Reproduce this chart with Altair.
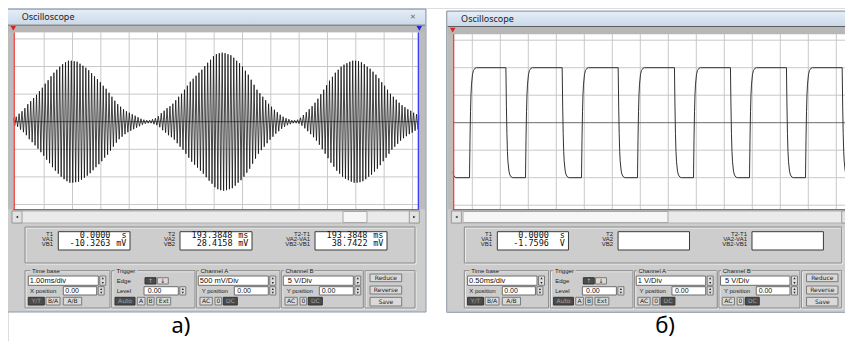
import altair as alt
import pandas as pd

# ------------------------------------------------------------------ data
# Panel (a): beat signal, Channel A 500 mV/div, time base 1 ms/div.
# One peak amplitude per carrier cycle (mV), read stroke by stroke from the trace.
A_CARRIER_PERIOD_MS = 0.1024
A_AMPLITUDE_MV = [
    72, 91, 145, 190, 245, 317, 371, 429, 489, 553, 616, 689, 752, 824, 888, 942, 997, 1042, 1078, 1105,
    1105, 1096, 1087, 1051, 1015, 978, 933, 879, 824, 770, 716, 652, 598, 525, 453, 380, 317, 272, 226, 190,
    163, 136, 109, 82, 54, 36, 27, 27, 45, 63, 100, 154, 199, 245, 281, 326, 390, 453, 507, 580,
    652, 725, 779, 833, 888, 942, 1006, 1069, 1123, 1187, 1223, 1241, 1250, 1241, 1223, 1205, 1160, 1105, 1060, 997,
    924, 852, 761, 670, 580, 516, 453, 390, 326, 272, 217, 172, 127, 91, 63, 45, 27, 27, 36, 72,
    121, 172, 226, 281, 344, 417, 498, 580, 661, 743, 815, 888, 942, 997, 1033, 1060, 1087, 1105, 1105, 1096,
    1078, 1042, 997, 960, 906, 852, 788, 716, 652, 580, 507, 453, 399, 344, 299, 263, 226, 199, 163, 136, 118]
A_X_DOMAIN_MS = [0.0, 14.331]
A_Y_DOMAIN_V = [-1.587, 1.62]
A_XGRID_MS = [1.09, 2.09, 3.09, 4.09, 5.09, 6.09, 7.09, 8.09, 9.09, 10.09, 11.09, 12.09, 13.09, 14.09]
A_YGRID_V = [-1.5, -1.0, -0.5, 0.5, 1.0, 1.5]

# Panel (b): square wave, Channel A 1 V/div, time base 0.5 ms/div.
B_START_T_MS = [0.0, 0.009, 0.018, 0.036, 0.06]
B_START_V = [-1.76, -1.86, -1.92, -1.97, -2.0]
B_RISE_MS = [0.30, 1.30, 2.30, 3.30, 4.30, 5.30, 6.30]
B_FALL_MS = [0.95, 1.955, 2.955, 3.96, 4.96, 5.96, 6.955]
B_EDGE_DT_MS = [0.0, 0.009, 0.018, 0.027, 0.036, 0.054, 0.071, 0.098, 0.125]
B_EDGE_FRACTION = [0.0, 0.35, 0.6, 0.76, 0.85, 0.94, 0.975, 0.995, 1.0]
B_HIGH_V = 2.0
B_LOW_V = -2.0
B_END_MS = 7.2
B_X_DOMAIN_MS = [0.0, 7.125]
B_Y_DOMAIN_V = [-3.149, 3.287]
B_XGRID_MS = [0.35, 0.85, 1.35, 1.85, 2.35, 2.85, 3.35, 3.85, 4.35, 4.85, 5.35, 5.85, 6.35, 6.85]
B_YGRID_V = [-3, -2, -1, 1, 2, 3]

# Readouts and control texts
A_READOUT = [["0.0000", "s", "-10.3263", "mV"], ["193.3848", "ms", "28.4158", "mV"], ["193.3848", "ms", "38.7422", "mV"]]
B_READOUT = [["0.0000", "s", "-1.7596", "V"], ["", "", "", ""], ["", "", "", ""]]
A_SETTINGS = ["1.00ms/div", "500 mV/Div", "5 V/Div"]
B_SETTINGS = ["0.50ms/div", "1 V/Div", "5 V/Div"]

# ------------------------------------------------------------------ traces
a_t, a_v = [], []
for i, amp in enumerate(A_AMPLITUDE_MV):
    a_t += [i * A_CARRIER_PERIOD_MS, i * A_CARRIER_PERIOD_MS + A_CARRIER_PERIOD_MS / 2]
    a_v += [amp / 1000.0, -amp / 1000.0]
trace_a = pd.DataFrame({"t": a_t, "v": a_v})

b_t, b_v = list(B_START_T_MS), list(B_START_V)
edges = sorted([(r, 1) for r in B_RISE_MS] + [(f, -1) for f in B_FALL_MS])
swing = B_HIGH_V - B_LOW_V
for t0, kind in edges:
    for dt, fr in zip(B_EDGE_DT_MS, B_EDGE_FRACTION):
        b_t.append(t0 + dt)
        b_v.append(B_LOW_V + fr * swing if kind == 1 else B_HIGH_V - fr * swing)
b_t.append(B_END_MS)
b_v.append(B_LOW_V)
trace_b = pd.DataFrame({"t": b_t, "v": b_v})

# ------------------------------------------------------------------ layout / style
TOTAL_W, TOTAL_H = 837, 333
PANEL = "#cdcdcd"
SIDE = "#bcbcbc"
BORDER = "#8e9aab"
SANS = "Liberation Sans"
MONO = "DejaVu Sans Mono"


def raw(field, ch):
    return ch(field, scale=None, axis=None) if ch in (alt.X, alt.Y) else ch(field, scale=None)


def placed_x(dom, px0, px1):
    u = (dom[1] - dom[0]) / (px1 - px0)
    d0 = dom[0] - px0 * u
    return alt.Scale(domain=[d0, d0 + TOTAL_W * u], nice=False, zero=False)


def placed_y(dom, py0, py1):
    u = (dom[1] - dom[0]) / (py1 - py0)
    d0 = dom[0] - (TOTAL_H - py1) * u
    return alt.Scale(domain=[d0, d0 + TOTAL_H * u], nice=False, zero=False)


def window_layers(cfg, trace, xdom, ydom, xgrid, ygrid, trace_color, trace_w, readout, settings):
    W, H = cfg["w"], cfg["h"]
    ox, oy = cfg["ox"], cfg["oy"]
    fl, fr, ft, tb, sb, fb = cfg["fl"], cfg["fr"], cfg["ft"], cfg["tb"], cfg["sb"], cfg["fb"]
    k = cfg["k"]
    pr = cfg["panel_right"]

    def X(v):
        return v * k

    back, rects, points = [], [], []
    t_left, t_right, t_center, t_mono = [], [], [], []

    def R(x, x2, y, y2, fill, stroke="transparent", target=None):
        (rects if target is None else target).append(
            dict(x=x + ox, x2=x2 + ox, y=y + oy, y2=y2 + oy, fill=fill, stroke=stroke))

    def P(x, y, shape, size, color):
        points.append(dict(x=x + ox, y=y + oy, shape=shape, size=size, color=color))

    def T(lst, x, y, text, size, color):
        lst.append(dict(x=x + ox, y=y + oy, text=text, size=size, color=color))

    # window body and white screen (drawn under the trace)
    R(fl, fr, ft, fb, PANEL, BORDER, target=back)
    R(0, W, 0, H, "white", target=back)
    # frame parts around the screen
    R(fl + 1, 0, tb, H, SIDE)
    R(W, fr - 1, tb, H, SIDE)
    R(fl + 1, fr - 1, tb, sb, "#b7b7b7")
    R(fl + 1, fr - 1, tb, tb + 1, "#5f5f5f")
    R(0, W, H, H + 1, "#555555")
    # icon + close button
    R(-1.3, 5.7, ft + 4, ft + 11, "#f4f4f4", "#6d7b8d")
    R(0.2, 3.0, ft + 6, ft + 8.5, "#5b7fae")
    cx = cfg["close_x"]
    R(cx, min(cx + 20, fr - 1), ft + 2, ft + 13, "#e8edf4", "#8d96a3")
    if cfg["close_glyph"]:
        T(t_center, cx + 10, ft + 7.6, "✕", 7, "#6a6a6a")
    # scrollbar
    R(-1.3, W, H + 1.7, H + 13.7, "#eaeaea", "#b0b0b0")
    R(cfg["thumb"][0], cfg["thumb"][1], H + 2.2, H + 13.2, "#f6f6f6", "#a8a8a8")
    R(-1.3, 8.7, H + 1.7, H + 13.7, "#e2e2e2", "#9c9c9c")
    R(W - 10, W, H + 1.7, H + 13.7, "#e2e2e2", "#9c9c9c")
    P(3.7, H + 7.7, "triangle-left", 7, "#222222")
    P(W - 5, H + 7.7, "triangle-right", 7, "#222222")
    # readout frame + boxes
    R(X(11.7) + 1, pr + 1, 195.7, 231.7, "transparent", "#f2f2f2")
    R(X(11.7), pr, 194.7, 230.7, "transparent", "#8a8a8a")
    boxes = [(45, 116.7), (166.7, 238.7), (301.7, 373.7)]
    labels = [(39.7, ["T1", "VA1", "VB1"]), (161.7, ["T2", "VA2", "VB2"]),
              (296.7, ["T2-T1", "VA2-VA1", "VB2-VB1"])]
    for (b0, b1), (lx, labs), vals in zip(boxes, labels, readout):
        R(X(b0), X(b1), 199.4, 217.7, "white", "#3a3a3a")
        for lab, yy in zip(labs, [201.7, 206.9, 211.9]):
            T(t_right, X(lx), yy, lab, 6, "#1e1e1e")
        T(t_mono, X(b1) - 19.5, 202.2, vals[0], 8.5, "#111111")
        T(t_mono, X(b1) - 3.5, 202.2, vals[1], 8.5, "#111111")
        T(t_mono, X(b1) - 19.5, 210.8, vals[2], 8.5, "#111111")
        T(t_mono, X(b1) - 3.5, 210.8, vals[3], 8.5, "#111111")
    # control groups
    groups = [(11.7, 96.7), (98.4, 181.7), (183.4, 266.7), (268.4, 350)]
    for g0, g1 in groups:
        R(X(g0) + 1, X(g1) + 1, 239.4, 276.7, "transparent", "#f2f2f2")
        R(X(g0), X(g1), 238.4, 275.7, "transparent", "#8a8a8a")
    R(X(351.7) + 1, pr + 1, 239.4, 276.7, "transparent", "#f2f2f2")
    R(X(351.7), pr, 238.4, 275.7, "transparent", "#8a8a8a")
    for (b0, b1), name in zip([(17, 47), (101.5, 124), (185.5, 216), (270.5, 301)],
                              ["Time base", "Trigger", "Channel A", "Channel B"]):
        R(X(b0), X(b1), 235.5, 241.5, PANEL)
        T(t_left, X(b0) + 1.7, 238.4, name, 6, "#1e1e1e")
    # inputs with spinners
    inputs = [(15, 85, 243.7, 253, settings[0], 16.5, 7.5), (50, 83.4, 254.4, 262.7, "0.00", 52, 7),
              (130.7, 165, 254.4, 262.7, "0.00", 134.5, 7), (185, 255, 243.7, 253, settings[1], 186.5, 7.5),
              (221, 255, 254.4, 262.7, "0.00", 224, 7), (270, 340, 243.7, 253, settings[2], 274.5, 7.5),
              (306, 340, 254.4, 262.7, "0.00", 308.4, 7)]
    for x0, x1, y0, y1, txt, tx, ts in inputs:
        R(X(x0), X(x1), y0, y1, "white", "#6d6d6d")
        T(t_left, X(tx), (y0 + y1) / 2 + 0.3, txt, ts, "#111111")
        s0, s1 = X(x1) + 1.5, X(x1) + 7.5
        R(s0, s1, y0, y1, "#dedede", "#7a7a7a")
        P((s0 + s1) / 2, y0 + 2.3, "triangle-up", 5, "#222222")
        P((s0 + s1) / 2, y1 - 2.3, "triangle-down", 5, "#222222")
    for name, x0, yy in [("X position", 16.7, 258.6), ("Edge", 103.4, 248.4), ("Level", 103.4, 258.6),
                         ("Y position", 188.4, 258.6), ("Y position", 273.4, 258.6)]:
        T(t_left, X(x0), yy, name, 6, "#1e1e1e")
    # buttons
    buttons = [("Y/T", 15, 31, 265, 272.7, True), ("B/A", 32.7, 46.7, 265, 272.7, False),
               ("A/B", 50, 68.4, 265, 272.7, False), ("", 131.7, 142.7, 245.4, 251.7, True),
               ("", 144, 155, 245.4, 251.7, False), ("Auto", 101.7, 121.7, 265, 272.7, True),
               ("A", 124, 131.7, 265, 272.7, False), ("B", 134, 140.7, 265, 272.7, False),
               ("Ext", 143.4, 157.4, 265, 272.7, False), ("AC", 186.7, 199, 265, 272.7, False),
               ("0", 201.7, 208.4, 265, 272.7, False), ("DC", 210, 224, 265, 272.7, True),
               ("AC", 271.7, 284, 265, 272.7, False), ("0", 286.7, 293.4, 265, 272.7, False),
               ("DC", 295, 309, 265, 272.7, True), ("Reduce", 356.7, 388.4, 241.7, 249.4, False),
               ("Reverse", 356.7, 388.4, 253.7, 261.7, False), ("Save", 356.7, 388.4, 265, 273.7, False)]
    for lab, x0, x1, y0, y1, dark in buttons:
        R(X(x0), X(x1), y0, y1, "#4b4b4b" if dark else "#dadada", "#333333" if dark else "#7a7a7a")
        if lab:
            T(t_center, (X(x0) + X(x1)) / 2, (y0 + y1) / 2 + 0.2, lab, 6, "#a0a0a0" if dark else "#1a1a1a")
    # edge glyphs on the trigger buttons
    T(t_center, X(137.2), 248.6, "↑", 6, "#b0b0b0")
    T(t_center, X(149.5), 248.6, "↓", 6, "#1a1a1a")
    # cursor markers
    P(0, (tb + sb) / 2, "triangle-down", 30, "#e02020")
    if cfg["blue_line"]:
        P(W, (tb + sb) / 2, "triangle-down", 30, "#2020e0")

    xs = placed_x(xdom, ox, ox + W)
    ys = placed_y(ydom, oy, oy + H)

    def rect_layer(rows):
        return alt.Chart(pd.DataFrame(rows)).mark_rect(strokeWidth=1).encode(
            x=raw("x:Q", alt.X), x2="x2:Q", y=raw("y:Q", alt.Y), y2="y2:Q",
            fill=raw("fill:N", alt.Fill), stroke=raw("stroke:N", alt.Stroke))

    one = pd.DataFrame({"c": [0]})
    layers = [rect_layer(back)]
    layers.append(alt.Chart(pd.DataFrame({"t": xgrid})).mark_rule(color="#c9c9c9", strokeWidth=1).encode(
        x=alt.X("t:Q", scale=xs, axis=None), y=alt.value(oy), y2=alt.value(oy + H)))
    layers.append(alt.Chart(pd.DataFrame({"v": ygrid})).mark_rule(color="#c9c9c9", strokeWidth=1).encode(
        y=alt.Y("v:Q", scale=ys, axis=None), x=alt.value(ox), x2=alt.value(ox + W)))
    layers.append(alt.Chart(pd.DataFrame({"v": [0.0]})).mark_rule(color="#6a6a6a", strokeWidth=1).encode(
        y=alt.Y("v:Q", scale=ys, axis=None), x=alt.value(ox), x2=alt.value(ox + W)))
    layers.append(alt.Chart(trace).transform_filter(
        (alt.datum.t >= xdom[0]) & (alt.datum.t <= xdom[1] + 0.01)).mark_line(
        color=trace_color, strokeWidth=trace_w).encode(
        x=alt.X("t:Q", scale=xs, axis=None), y=alt.Y("v:Q", scale=ys, axis=None)))
    layers.append(alt.Chart(one).mark_rule(color="#f04040", strokeWidth=1.6).encode(
        x=alt.value(ox + 0.8), y=alt.value(oy), y2=alt.value(oy + H)))
    if cfg["blue_line"]:
        layers.append(alt.Chart(one).mark_rule(color="#3c3cf0", strokeWidth=1.6).encode(
            x=alt.value(ox + W - 0.8), y=alt.value(oy), y2=alt.value(oy + H)))
    layers.append(rect_layer(rects))
    layers.append(alt.Chart(one).mark_rect(
        fill=alt.Gradient(gradient="linear", stops=[alt.GradientStop(color="#e4edf7", offset=0),
                                                    alt.GradientStop(color="#cbd9ea", offset=1)],
                          x1=0, x2=0, y1=0, y2=1)).encode(
        x=alt.value(ox + fl + 1), x2=alt.value(ox + fr - 1), y=alt.value(oy + ft + 1), y2=alt.value(oy + tb)))
    layers.append(alt.Chart(one).mark_text(
        text="Oscilloscope", font="Noto Sans", fontSize=9, align="left", baseline="middle", color="#222222").encode(
        x=alt.value(ox + 8.4), y=alt.value(oy + (ft + tb) / 2)))

    def text_layer(rows, align, font):
        return alt.Chart(pd.DataFrame(rows)).mark_text(align=align, baseline="middle", font=font).encode(
            x=raw("x:Q", alt.X), y=raw("y:Q", alt.Y), text="text:N",
            size=raw("size:Q", alt.Size), color=raw("color:N", alt.Color))

    layers.append(text_layer(t_left, "left", SANS))
    layers.append(text_layer(t_right, "right", SANS))
    layers.append(text_layer(t_center, "center", "DejaVu Sans"))
    layers.append(text_layer(t_mono, "right", MONO))
    layers.append(alt.Chart(pd.DataFrame(points)).mark_point(filled=True, opacity=1).encode(
        x=raw("x:Q", alt.X), y=raw("y:Q", alt.Y), shape=raw("shape:N", alt.Shape),
        size=raw("size:Q", alt.Size), color=raw("color:N", alt.Color)))
    layers.append(alt.Chart(one).mark_text(
        text=cfg["caption"], font="Noto Sans", fontSize=22, align="center", baseline="alphabetic",
        color="#000000").encode(x=alt.value(ox + cfg["caption_x"]), y=alt.value(oy + 300.7)))
    return layers


# screen origins in chart pixels (page origin is 8 px left/up of the reference image)
left_cfg = dict(ox=5.3, oy=24.3, w=406, h=177, fl=-6.3, fr=412.7, ft=-23.3, tb=-7.8, sb=0, fb=279.7, k=1.0,
                panel_right=401.7, thumb=(329.7, 353.7), close_x=389.7, close_glyph=True, blue_line=True,
                caption="а)", caption_x=167.7)
right_cfg = dict(ox=444.7, oy=24.3, w=399, h=177, fl=-6, fr=400, ft=-21.3, tb=-6.3, sb=2, fb=280, k=0.992,
                 panel_right=389, thumb=(10.3, 215.3), close_x=387.3, close_glyph=False, blue_line=False,
                 caption="б)", caption_x=212.3)

layers = window_layers(left_cfg, trace_a, A_X_DOMAIN_MS, A_Y_DOMAIN_V, A_XGRID_MS, A_YGRID_V,
                       "#0a0a0a", 0.75, A_READOUT, A_SETTINGS)
layers += window_layers(right_cfg, trace_b, B_X_DOMAIN_MS, B_Y_DOMAIN_V, B_XGRID_MS, B_YGRID_V,
                        "#333333", 1.0, B_READOUT, B_SETTINGS)

chart = alt.layer(*layers).resolve_scale(
    x="independent", y="independent", color="independent", size="independent",
    shape="independent", fill="independent", stroke="independent").properties(
    width=TOTAL_W, height=TOTAL_H, padding=0, autosize=alt.AutoSizeParams(type="none")
).configure_view(stroke=None, fill="white").configure(background="white")

chart.save("out.html", embed_options={"renderer": "svg", "actions": False})
